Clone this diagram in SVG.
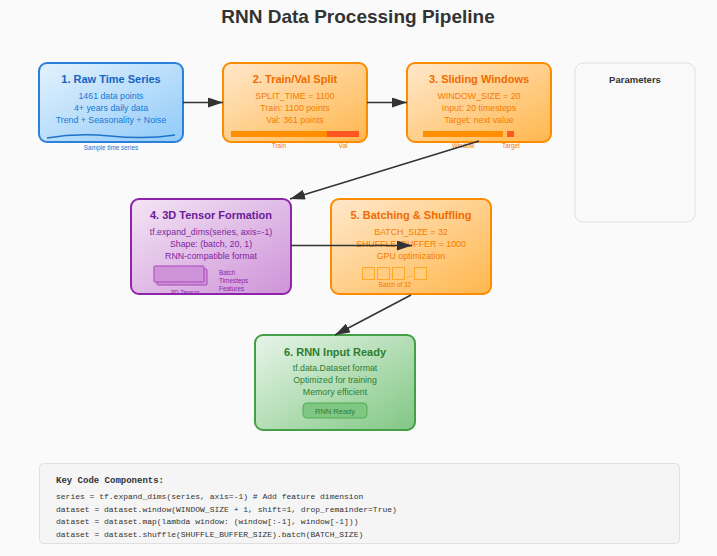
<svg xmlns="http://www.w3.org/2000/svg" width="717" height="556" viewBox="0 0 717 556">
<defs>
<linearGradient id="gBlue" x1="0" y1="0" x2="1" y2="1"><stop offset="0" stop-color="#e3f2fd"/><stop offset="1" stop-color="#90caf9"/></linearGradient>
<linearGradient id="gOrange" x1="0" y1="0" x2="1" y2="1"><stop offset="0" stop-color="#ffe8cc"/><stop offset="1" stop-color="#ffb74d"/></linearGradient>
<linearGradient id="gPurple" x1="0" y1="0" x2="1" y2="1"><stop offset="0" stop-color="#f3e5f5"/><stop offset="1" stop-color="#ce93d8"/></linearGradient>
<linearGradient id="gGreen" x1="0" y1="0" x2="1" y2="1"><stop offset="0" stop-color="#e8f5e9"/><stop offset="1" stop-color="#81c784"/></linearGradient>
<marker id="arr" markerUnits="userSpaceOnUse" markerWidth="15" markerHeight="10" refX="15" refY="5" orient="auto"><path d="M0,0 L15,5 L0,10 z" fill="#333"/></marker>
<style>
text{font-family:"Liberation Sans",Arial,sans-serif;text-anchor:middle}
.title{font-size:11px;font-weight:bold}
.body{font-size:8.8px}
.small{font-size:6.4px}
.conn{stroke:#333;stroke-width:1.5;fill:none;marker-end:url(#arr)}
.code{font-family:"Liberation Mono","Courier New",monospace;font-size:8px;fill:#333;text-anchor:start}
</style>
</defs>
<rect x="0" y="0" width="717" height="556" fill="#fafafa"/>
<text x="358" y="23" style="font-size:19px;font-weight:bold" fill="#333">RNN Data Processing Pipeline</text>

<g id="node1">
<rect x="39" y="63" width="144" height="79" rx="8" fill="url(#gBlue)" stroke="#2b80d8" stroke-width="2"/>
<text x="111" y="83" class="title" fill="#1565c0">1. Raw Time Series</text>
<text x="111" y="99" class="body" fill="#1976d2">1461 data points</text>
<text x="111" y="111" class="body" fill="#1976d2">4+ years daily data</text>
<text x="111" y="122.6" class="body" fill="#1976d2">Trend + Seasonality + Noise</text>
<path d="M47,138 C70,134 90,134 110,136 S150,139 175,135" fill="none" stroke="#1e73c8" stroke-width="1.5"/>
<text x="111" y="150" class="small" fill="#1976d2">Sample time series</text>
</g>

<g id="node2">
<rect x="223" y="63" width="144" height="79" rx="8" fill="url(#gOrange)" stroke="#fb8c00" stroke-width="2"/>
<text x="295" y="83" class="title" fill="#ef6c00">2. Train/Val Split</text>
<text x="295" y="99" class="body" fill="#f57c00">SPLIT_TIME = 1100</text>
<text x="295" y="111" class="body" fill="#f57c00">Train: 1100 points</text>
<text x="295" y="122.6" class="body" fill="#f57c00">Val: 361 points</text>
<rect x="231" y="131" width="96" height="6" fill="#ff8f00"/>
<rect x="327" y="131" width="32" height="6" fill="#ff5722"/>
<text x="279" y="148" class="small" fill="#f57c00">Train</text>
<text x="343" y="148" class="small" fill="#f57c00">Val</text>
</g>

<g id="node3">
<rect x="407" y="63" width="144" height="79" rx="8" fill="url(#gOrange)" stroke="#fb8c00" stroke-width="2"/>
<text x="479" y="83" class="title" fill="#ef6c00">3. Sliding Windows</text>
<text x="479" y="99" class="body" fill="#f57c00">WINDOW_SIZE = 20</text>
<text x="479" y="111" class="body" fill="#f57c00">Input: 20 timesteps</text>
<text x="479" y="122.6" class="body" fill="#f57c00">Target: next value</text>
<rect x="423" y="131" width="80" height="6" fill="#ff8f00"/>
<rect x="507" y="131" width="7" height="6" fill="#ff5722"/>
<text x="463" y="148" class="small" fill="#f57c00">Window</text>
<text x="511" y="148" class="small" fill="#f57c00">Target</text>
</g>

<g id="params">
<rect x="575" y="63" width="120" height="159" rx="8" fill="#f9f9f9" stroke="#e0e0e0" stroke-width="1"/>
<text x="635" y="83" style="font-size:9.5px;font-weight:bold" fill="#333">Parameters</text>
</g>

<g id="node4">
<rect x="131" y="199" width="160" height="95" rx="8" fill="url(#gPurple)" stroke="#8e24aa" stroke-width="2"/>
<text x="211" y="219" class="title" fill="#6a1b9a">4. 3D Tensor Formation</text>
<text x="211" y="235" class="body" fill="#7b1fa2">tf.expand_dims(series, axis=-1)</text>
<text x="211" y="247" class="body" fill="#7b1fa2">Shape: (batch, 20, 1)</text>
<text x="211" y="258.6" class="body" fill="#7b1fa2">RNN-compatible format</text>
<rect x="157" y="269" width="50" height="16" rx="1" fill="#ce93d8" stroke="#ab47bc" stroke-width="1"/>
<rect x="154" y="266" width="50" height="16" rx="1" fill="#ce93d8" stroke="#ab47bc" stroke-width="1"/>
<text x="185" y="295" class="small" fill="#8e24aa">3D Tensor</text>
<text x="219" y="275" class="small" fill="#8e24aa" style="text-anchor:start">Batch</text>
<text x="219" y="283" class="small" fill="#8e24aa" style="text-anchor:start">Timesteps</text>
<text x="219" y="291" class="small" fill="#8e24aa" style="text-anchor:start">Features</text>
</g>

<g id="node5">
<rect x="331" y="199" width="160" height="95" rx="8" fill="url(#gOrange)" stroke="#fb8c00" stroke-width="2"/>
<text x="411" y="219" class="title" fill="#ef6c00">5. Batching &amp; Shuffling</text>
<text x="411" y="235" class="body" fill="#f57c00">BATCH_SIZE = 32</text>
<text x="411" y="247" class="body" fill="#f57c00">SHUFFLE_BUFFER = 1000</text>
<text x="411" y="258.6" class="body" fill="#f57c00">GPU optimization</text>
<g fill="#ffcc80" stroke="#ffa726" stroke-width="1">
<rect x="362.5" y="267.5" width="12" height="12"/>
<rect x="377.5" y="267.5" width="12" height="12"/>
<rect x="392.5" y="267.5" width="12" height="12"/>
<rect x="414.5" y="267.5" width="12" height="12"/>
</g>
<text x="409.5" y="277" class="small" fill="#f57c00">...</text>
<text x="395" y="287" class="small" fill="#f57c00">Batch of 32</text>
</g>

<g id="node6">
<rect x="255" y="335" width="160" height="95" rx="8" fill="url(#gGreen)" stroke="#43a047" stroke-width="2"/>
<text x="335" y="356" class="title" fill="#2e7d32">6. RNN Input Ready</text>
<text x="335" y="371" class="body" fill="#2e7d32">tf.data.Dataset format</text>
<text x="335" y="383" class="body" fill="#2e7d32">Optimized for training</text>
<text x="335" y="394.6" class="body" fill="#2e7d32">Memory efficient</text>
<rect x="303" y="403" width="64" height="15" rx="4" fill="#81c784" stroke="#4caf50" stroke-width="1"/>
<text x="335" y="413.5" style="font-size:7.5px" fill="#2e7d32">RNN Ready</text>
</g>

<g id="connectors">
<line x1="183" y1="102.5" x2="223" y2="102.5" class="conn"/>
<line x1="367" y1="102.5" x2="407" y2="102.5" class="conn"/>
<line x1="479" y1="141" x2="290" y2="199" class="conn"/>
<line x1="291" y1="245.5" x2="412" y2="245.5" class="conn"/>
<line x1="411" y1="295" x2="335" y2="335" class="conn"/>
</g>

<g id="code">
<rect x="39.5" y="463.5" width="640" height="80" rx="4" fill="#f5f5f5" stroke="#e0e0e0" stroke-width="1"/>
<text x="56" y="483" class="code" style="font-size:9px;font-weight:bold">Key Code Components:</text>
<text x="56" y="499" class="code">series = tf.expand_dims(series, axis=-1) # Add feature dimension</text>
<text x="56" y="511.5" class="code">dataset = dataset.window(WINDOW_SIZE + 1, shift=1, drop_remainder=True)</text>
<text x="56" y="524" class="code">dataset = dataset.map(lambda window: (window[:-1], window[-1]))</text>
<text x="56" y="536.5" class="code">dataset = dataset.shuffle(SHUFFLE_BUFFER_SIZE).batch(BATCH_SIZE)</text>
</g>
</svg>
